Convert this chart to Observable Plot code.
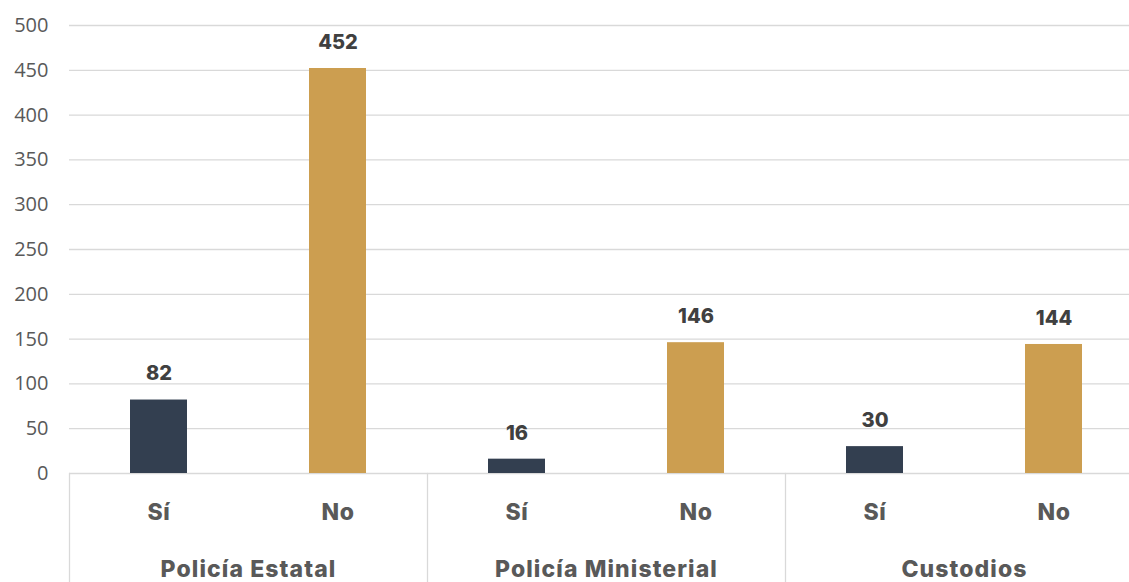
<!DOCTYPE html>
<html>
<head>
<meta charset="utf-8">
<script src="https://cdn.jsdelivr.net/npm/d3@7"></script>
<script src="https://cdn.jsdelivr.net/npm/@observablehq/plot@0.6"></script>
<style>
  html, body { margin: 0; padding: 0; background: #fff; }
  #chart svg { display: block; }
  #chart g[aria-label="fx-axis tick label"] text { letter-spacing: 1.1px; }
  #chart g[aria-label="x-axis tick label"] text { letter-spacing: 0.6px; }
</style>
</head>
<body>
<div id="chart"></div>
<script>
const groups = ["Policía Estatal", "Policía Ministerial", "Custodios"];
const answers = ["Sí", "No"];
const siValues = [82, 16, 30];
const noValues = [452, 146, 144];
const yTicks = [0, 50, 100, 150, 200, 250, 300, 350, 400, 450, 500];

const data = groups.flatMap((g, i) => [
  {group: g, answer: answers[0], value: siValues[i]},
  {group: g, answer: answers[1], value: noValues[i]}
]);

const boldFont = "Inter, 'Open Sans', sans-serif";

const chart = Plot.plot({
  width: 1129,
  height: 582,
  marginTop: 25,
  marginBottom: 109,
  marginLeft: 68,
  marginRight: -14,
  style: {fontFamily: "'Open Sans', sans-serif", background: "#fff"},
  fx: {domain: groups, padding: 0, label: null},
  x: {domain: answers, paddingInner: 0.68, paddingOuter: 0.34, label: null},
  y: {domain: [0, 500], label: null},
  color: {domain: answers, range: ["#333F50", "#CC9E50"]},
  marks: [
    Plot.gridY(yTicks, {stroke: "#d9d9d9", strokeOpacity: 1, strokeWidth: 1.3}),
    Plot.axisY({ticks: yTicks, tickSize: 0, tickPadding: 21, fontSize: 20, fill: "#595959", label: null}),
    Plot.barY(data, {fx: "group", x: "answer", y: "value", fill: "answer"}),
    Plot.text(data, {fx: "group", x: "answer", y: "value", text: d => String(d.value), dy: -26,
      fontSize: 20, fontWeight: 800, fill: "#404040", fontFamily: boldFont}),
    Plot.frame({anchor: "left", stroke: "#d9d9d9", strokeWidth: 1.3, insetTop: 448, insetBottom: -120}),
    Plot.axisX({tickSize: 0, tickPadding: 30, fontSize: 23, fontWeight: 800, fill: "#595959", fontFamily: boldFont, label: null}),
    Plot.axisFx({anchor: "bottom", tickSize: 0, tickPadding: 87, fontSize: 23, fontWeight: 800, fill: "#595959", fontFamily: boldFont, label: null})
  ]
});
document.getElementById("chart").append(chart);
</script>
</body>
</html>
